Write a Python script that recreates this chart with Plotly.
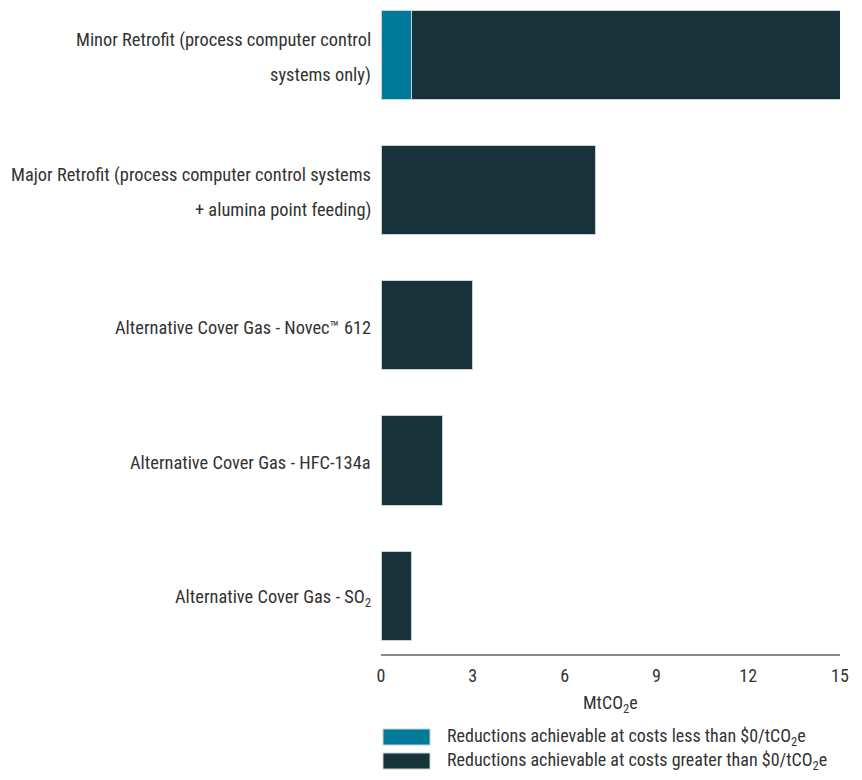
import plotly.graph_objects as go

# ---- data ----
categories = [
    "Minor Retrofit (process computer control<br>systems only)",
    "Major Retrofit (process computer control systems<br>+ alumina point feeding)",
    "Alternative Cover Gas - Novec™ 612",
    "Alternative Cover Gas - HFC-134a",
    "Alternative Cover Gas - SO<sub>2</sub>",
]
below_zero = [1, 0, 0, 0, 0]      # reductions at costs < $0/tCO2e
above_zero = [14, 7, 3, 2, 1]     # reductions at costs > $0/tCO2e
series_names = [
    "Reductions achievable at costs less than $0/tCO<sub>2</sub>e",
    "Reductions achievable at costs greater than $0/tCO<sub>2</sub>e",
]
x_ticks = [0, 3, 6, 9, 12, 15]
x_title = "MtCO<sub>2</sub>e"

# ---- style ----
W, H = 862, 780
L, R, T, B = 381, 22, 5, 126
FONT = "Roboto Condensed, Liberation Sans Narrow, sans-serif"
TXT = "#333333"
C_BLUE = "#007a99"
C_DARK = "#173238"
EDGE = "#c9d2d5"
FS = 18
FS_LAB = 18.4

fig = go.Figure()
fig.add_trace(go.Bar(y=categories, x=below_zero, orientation="h", name=series_names[0],
                     marker=dict(color=C_BLUE, line=dict(color=EDGE, width=1)),
                     width=0.658, showlegend=False))
fig.add_trace(go.Bar(y=categories, x=above_zero, orientation="h", name=series_names[1],
                     marker=dict(color=C_DARK, line=dict(color=EDGE, width=1)),
                     width=0.658, showlegend=False))

annotations = []
# category labels with custom line spacing
for cat in categories:
    lines = cat.split("<br>")
    n = len(lines)
    for i, ln in enumerate(lines):
        shift = (n - 1) / 2 * 35 - i * 35 - 2.5
        annotations.append(dict(x=0, xref="paper", y=cat, yref="y", text=ln,
                                xanchor="right", yanchor="middle", xshift=-8, yshift=shift,
                                showarrow=False, font=dict(family=FONT, size=FS_LAB, color=TXT)))

plot_h = H - T - B
def py(pix):
    return (H - B - pix) / plot_h
plot_w = W - L - R
def px(pix):
    return (pix - L) / plot_w

# axis title
annotations.append(dict(x=0.5, xref="paper", y=py(704), yref="paper", text=x_title,
                        showarrow=False, xanchor="center", yanchor="middle",
                        font=dict(family=FONT, size=FS, color=TXT)))

# legend (custom)
shapes = []
for i, (name, col) in enumerate(zip(series_names, [C_BLUE, C_DARK])):
    y0, y1 = 729 + i * 24, 745 + i * 24
    shapes.append(dict(type="rect", xref="paper", yref="paper",
                       x0=px(383), x1=px(430), y0=py(y1), y1=py(y0),
                       fillcolor=col, line=dict(color=EDGE, width=1)))
    annotations.append(dict(x=px(445), xref="paper", y=py((y0 + y1) / 2), yref="paper",
                            text=name, showarrow=False, xanchor="left", yanchor="middle",
                            font=dict(family=FONT, size=FS, color=TXT)))

fig.update_layout(
    width=W, height=H,
    margin=dict(l=L, r=R, t=T, b=B),
    barmode="stack",
    plot_bgcolor="white", paper_bgcolor="white",
    font=dict(family=FONT, size=FS, color=TXT),
    annotations=annotations, shapes=shapes,
    showlegend=False,
)
fig.update_xaxes(range=[0, 15], tickvals=x_ticks, ticktext=[str(v) for v in x_ticks],
                 showgrid=False, zeroline=False, showline=True, linecolor="#8a8a8a", linewidth=1.5,
                 ticks="", ticklabelstandoff=5, tickfont=dict(family=FONT, size=FS, color=TXT),
                 fixedrange=True)
fig.update_yaxes(type="category", categoryorder="array", categoryarray=categories,
                 range=[4.43, -0.366], autorange=False, showticklabels=False,
                 showgrid=False, zeroline=False, showline=False, ticks="", fixedrange=True)

fig.write_html("out.html", config={"displayModeBar": False},
               post_script="document.body.style.margin='0px';")
